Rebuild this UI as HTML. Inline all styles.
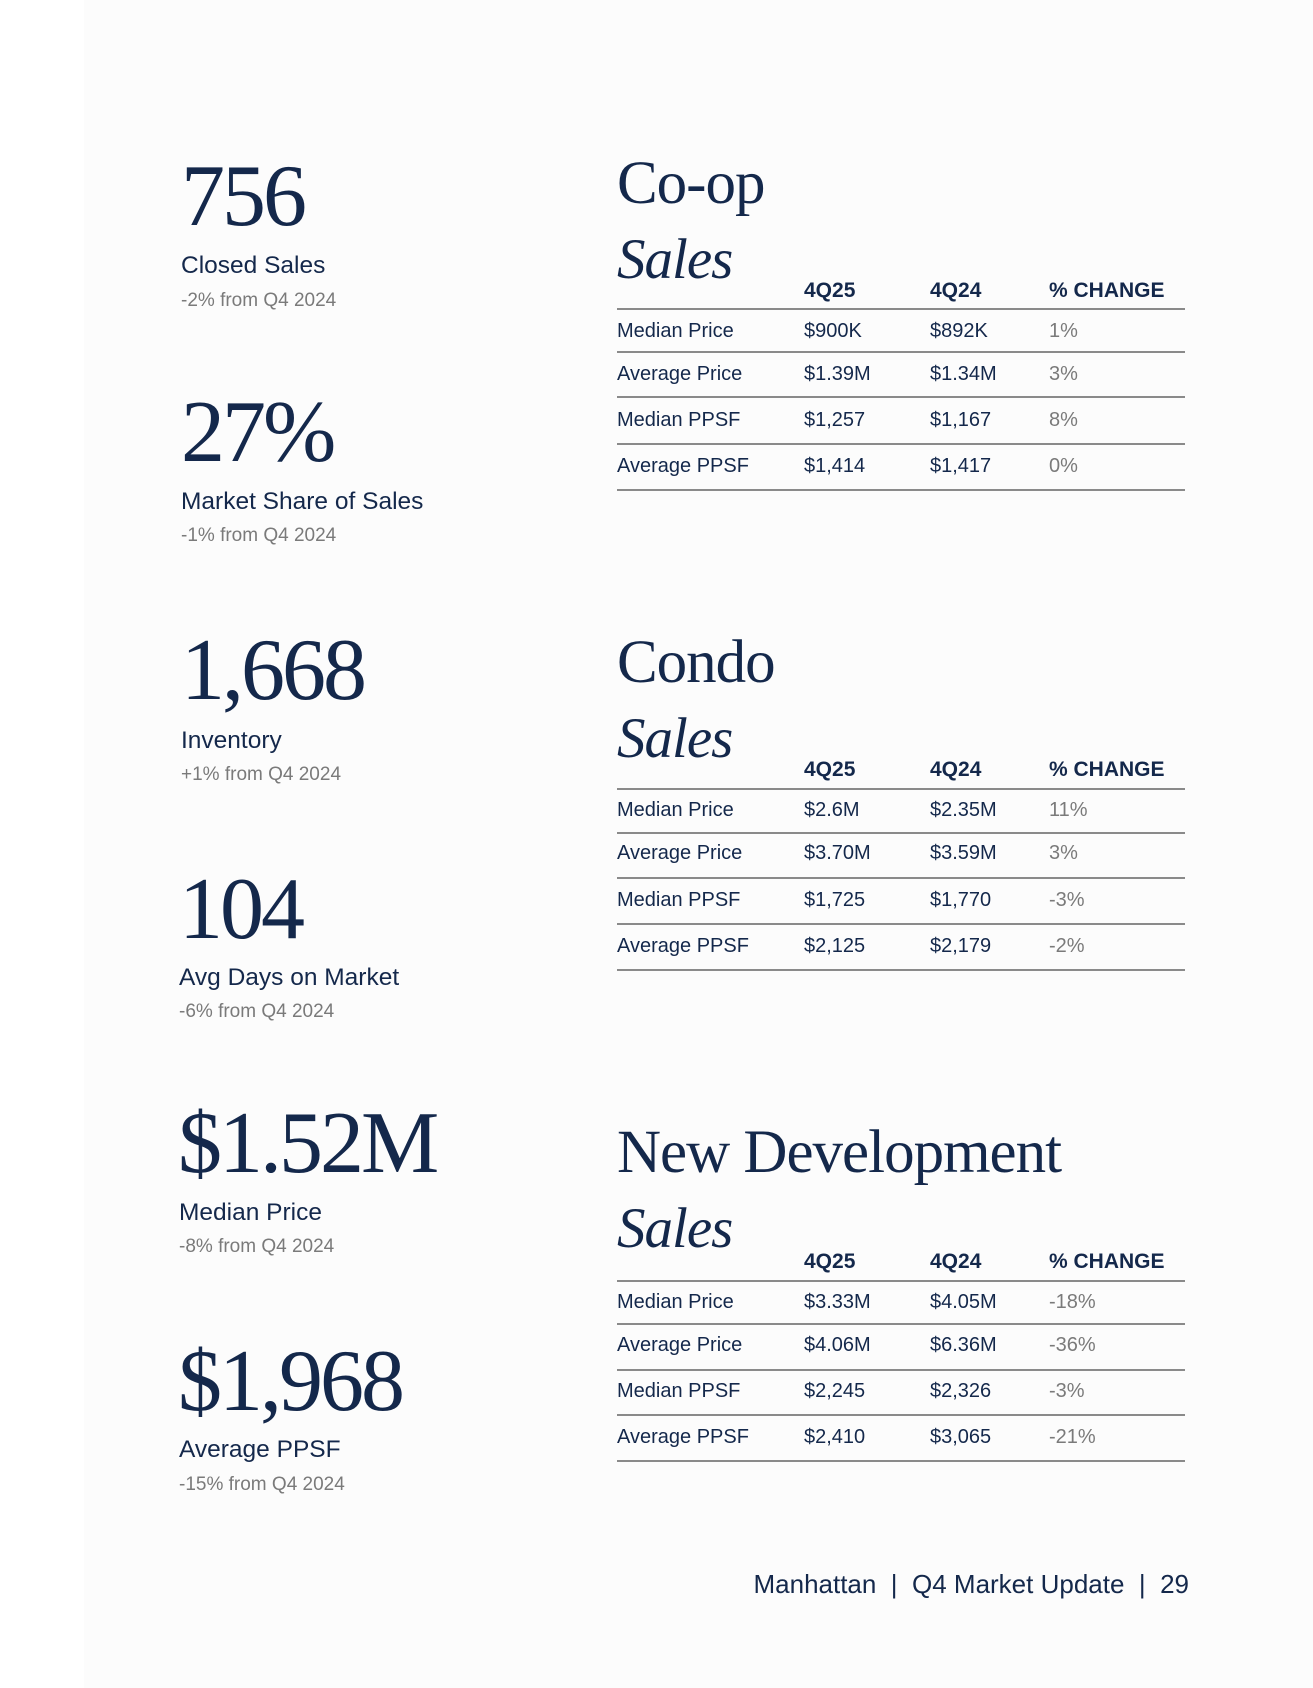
<!DOCTYPE html>
<html><head><meta charset="utf-8"><style>
body{margin:0;width:1313px;height:1688px;background:#fff;position:relative;overflow:hidden}
#pg{position:absolute;left:84px;top:0;width:1229px;height:1688px;background:#fcfcfc}
.a{position:absolute;white-space:nowrap;color:#14284b}
.big{font-family:"Liberation Serif",serif;font-size:88px;line-height:88px;letter-spacing:-3px}
.lab{font-family:"Liberation Sans",sans-serif;font-size:24.5px;line-height:24px}
.sub{font-family:"Liberation Sans",sans-serif;font-size:19px;line-height:20px;color:#7a7a7a}
.ttl{font-family:"Liberation Serif",serif;font-size:61px;line-height:62px;letter-spacing:-1px}
.sal{font-family:"Liberation Serif",serif;font-style:italic;font-size:57px;line-height:58px;letter-spacing:-1px}
.th{font-family:"Liberation Sans",sans-serif;font-size:21px;line-height:22px;font-weight:bold}
.td{font-family:"Liberation Sans",sans-serif;font-size:20px;line-height:22px}
.pc{color:#7a7a7a}
.ln{position:absolute;left:617px;width:568px;height:2px;background:#8a8a8a}
</style></head><body>
<div id="pg"></div>

<div class="a big" style="left:181px;top:153px">756</div>
<div class="a lab" style="left:181px;top:254px">Closed Sales</div>
<div class="a sub" style="left:181px;top:291px">-2% from Q4 2024</div>

<div class="a big" style="left:181px;top:389px">27%</div>
<div class="a lab" style="left:181px;top:490px">Market Share of Sales</div>
<div class="a sub" style="left:181px;top:526px">-1% from Q4 2024</div>

<div class="a big" style="left:181px;top:627px">1,668</div>
<div class="a lab" style="left:181px;top:729px">Inventory</div>
<div class="a sub" style="left:181px;top:765px">+1% from Q4 2024</div>

<div class="a big" style="left:179px;top:866px">104</div>
<div class="a lab" style="left:179px;top:966px">Avg Days on Market</div>
<div class="a sub" style="left:179px;top:1002px">-6% from Q4 2024</div>

<div class="a big" style="left:178px;top:1100px">$1.52M</div>
<div class="a lab" style="left:179px;top:1201px">Median Price</div>
<div class="a sub" style="left:179px;top:1237px">-8% from Q4 2024</div>

<div class="a big" style="left:178px;top:1338px">$1,968</div>
<div class="a lab" style="left:179px;top:1438px">Average PPSF</div>
<div class="a sub" style="left:179px;top:1475px">-15% from Q4 2024</div>

<div id="tables"></div>

<div class="a lab" style="right:124px;top:1572px;font-size:26px">Manhattan &nbsp;|&nbsp; Q4 Market Update &nbsp;|&nbsp; 29</div>

<script>
const sections=[
 {name:'coop',title:'Co-op',tTop:153,sTop:231,hdr:291,lines:[309,352,397,444,490],rows:[331,374,420,466],
  data:[['Median Price','$900K','$892K','1%'],['Average Price','$1.39M','$1.34M','3%'],['Median PPSF','$1,257','$1,167','8%'],['Average PPSF','$1,414','$1,417','0%']]},
 {name:'condo',title:'Condo',tTop:632,sTop:710,hdr:770,lines:[789,833,878,924,970],rows:[810,853,900,946],
  data:[['Median Price','$2.6M','$2.35M','11%'],['Average Price','$3.70M','$3.59M','3%'],['Median PPSF','$1,725','$1,770','-3%'],['Average PPSF','$2,125','$2,179','-2%']]},
 {name:'new-development',title:'New Development',tTop:1122,sTop:1200,hdr:1262,lines:[1281,1324,1370,1415,1461],rows:[1302,1345,1391,1437],
  data:[['Median Price','$3.33M','$4.05M','-18%'],['Average Price','$4.06M','$6.36M','-36%'],['Median PPSF','$2,245','$2,326','-3%'],['Average PPSF','$2,410','$3,065','-21%']]}
];
const headers=['4Q25','4Q24','% CHANGE'];
const colX=[617,804,930,1049];
const root=document.getElementById('tables');
function mk(cls,txt,left,top,name){
 const d=document.createElement('div');d.className='a '+cls;d.textContent=txt;
 d.style.left=left+'px';d.style.top=top+'px';
 
 
 root.appendChild(d);return d;}
sections.forEach(s=>{
 mk('ttl',s.title,617,s.tTop,s.name+'-title');
 mk('sal','Sales',617,s.sTop,s.name+'-sales-subtitle');
 headers.forEach((h,i)=>mk('th',h,colX[i+1],s.hdr-11,s.name+'-header-'+i));
 s.lines.forEach((y,i)=>{const l=document.createElement('div');l.className='ln';l.style.top=(y-1)+'px';
  
  
  root.appendChild(l);});
 s.data.forEach((r,ri)=>r.forEach((c,ci)=>mk('td'+(ci==3?' pc':''),c,colX[ci],s.rows[ri]-11,s.name+'-cell')));
});
</script>
</body></html>
